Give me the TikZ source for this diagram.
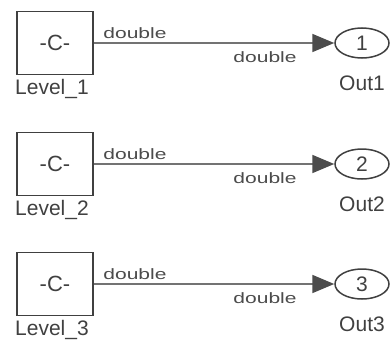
\documentclass[tikz,border=0pt]{standalone}
\usepackage{fontspec}
\setmainfont{Liberation Sans}
\usetikzlibrary{arrows.meta,shapes.geometric}
\newcommand{\wide}[1]{\scalebox{1.4}[1]{#1}}
\tikzset{
  constblk/.style={draw=black!75, line width=1.6pt, minimum width=76pt, minimum height=63pt, inner sep=0pt, font=\fontsize{22}{22}\selectfont, text=black!75},
  outport/.style={draw=black!75, ellipse, line width=1.5pt, minimum width=54pt, minimum height=30pt, inner sep=0pt, font=\fontsize{21}{21}\selectfont, text=black!75},
  blklabel/.style={font=\fontsize{21}{21}\selectfont, text=black!75, inner sep=0pt},
  sig/.style={draw=black!55, line width=1.8pt, -{Triangle[length=22pt,width=18pt,fill=black!70,color=black!70]}},
  typelbl/.style={font=\fontsize{15}{15}\selectfont, text=black!70, inner sep=0pt}
}
\begin{document}
\begin{tikzpicture}[x=1pt,y=-1pt]
\useasboundingbox (0,0) rectangle (390,340);
\foreach \i/\yc in {1/43,2/164,3/284}{
  \node[constblk] (c\i) at (55,\yc) {-C-};
  \node[blklabel] (l\i) at (52,\yc+46) {Level\_\i};
  \node[outport] (o\i) at (362,\yc) {\i};
  \node[blklabel] (n\i) at (362,\yc+40) {Out\i};
  \draw[sig] (c\i.east) -- (o\i.west);
  \node[typelbl] (t\i) at (135,\yc-10) {\wide{double}};
  \node[typelbl] (u\i) at (265,\yc+14) {\wide{double}};
}
\end{tikzpicture}
\end{document}
